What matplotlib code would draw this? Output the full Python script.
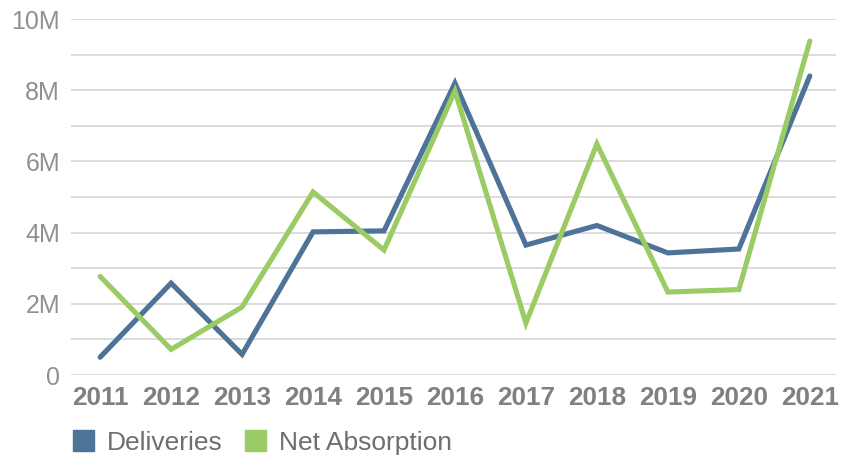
import matplotlib.pyplot as plt
from matplotlib.patches import Patch
from matplotlib.ticker import FuncFormatter

# values (millions)
years = ["2011", "2012", "2013", "2014", "2015", "2016", "2017", "2018", "2019", "2020", "2021"]
deliveries = [0.50, 2.58, 0.58, 4.02, 4.05, 8.20, 3.65, 4.20, 3.43, 3.54, 8.40]
net_absorption = [2.77, 0.72, 1.91, 5.14, 3.51, 7.98, 1.46, 6.49, 2.33, 2.40, 9.38]

blue = "#4E7399"
green = "#9BCB64"
grey = "#808080"

plt.rcParams["font.family"] = ["Liberation Sans", "DejaVu Sans"]

fig = plt.figure(figsize=(8.58, 4.57), dpi=100)
ax = fig.add_axes([0.0828, 0.1794, 0.8916, 0.779])

x = range(len(years))
ax.plot(x, deliveries, color=blue, lw=3.7, solid_capstyle="round", solid_joinstyle="miter")
ax.plot(x, net_absorption, color=green, lw=3.7, solid_capstyle="round", solid_joinstyle="miter")

ax.set_ylim(0, 10)
ax.set_xlim(-0.41, 10.37)
ax.set_yticks(range(0, 11, 2))
ax.set_yticks(range(0, 11), minor=True)
ax.yaxis.set_major_formatter(FuncFormatter(lambda v, p: "0" if v == 0 else f"{int(v)}M"))
ax.grid(axis="y", which="both", color="#D9D9D9", lw=1.3)
ax.set_axisbelow(True)

ax.set_xticks(list(x))
ax.set_xticklabels(years, fontsize=18.8, fontweight="bold", color=grey)
ax.tick_params(axis="both", length=0, which="both")
ax.tick_params(axis="y", labelsize=18, labelcolor="#909090", pad=8)
ax.tick_params(axis="x", pad=8)
for s in ax.spines.values():
    s.set_visible(False)

handles = [Patch(color=blue, label="Deliveries"), Patch(color=green, label="Net Absorption")]
fig.legend(handles=handles, loc="lower left", bbox_to_anchor=(0.057, -0.047), ncol=2,
           frameon=False, fontsize=19, handlelength=0.8, handleheight=0.8,
           handletextpad=0.5, columnspacing=0.85, labelcolor="#6e6e6e")

fig.savefig("out.png", dpi=100)
